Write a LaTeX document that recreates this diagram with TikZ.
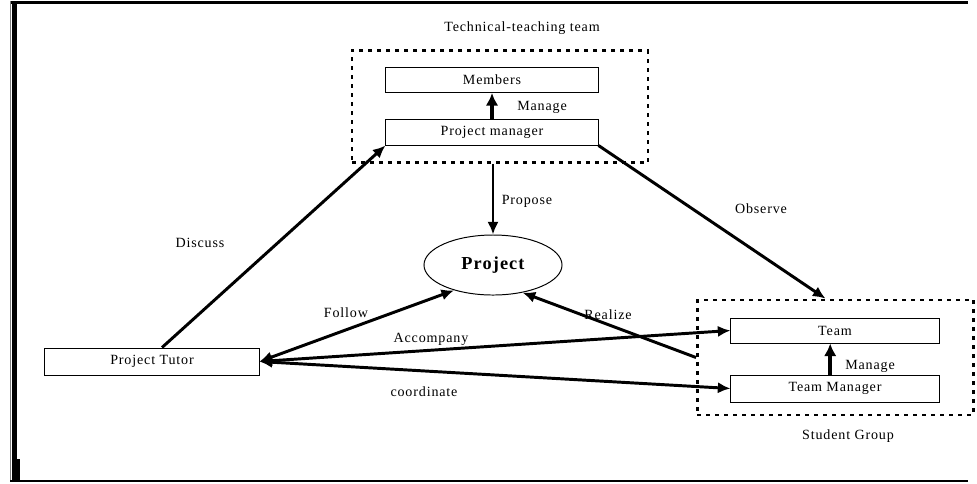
\documentclass[tikz,border=0pt]{standalone}
\usepackage{fontspec}
\setmainfont[LetterSpace=6]{Liberation Serif}
\usetikzlibrary{arrows.meta,shapes.geometric}

\tikzset{
  box/.style={draw, line width=0.7pt, minimum height=0.65cm, inner sep=0pt},
  grp/.style={draw, line width=2pt, dash pattern=on 2.8pt off 3.6pt, inner sep=0pt},
  arr/.style={line width=2.1pt, -{Latex[length=9pt,width=8pt]}},
  thickarr/.style={line width=2.8pt, -{Latex[length=9pt,width=9pt]}},
  twoway/.style={line width=2.1pt, {Latex[length=9pt,width=8pt]}-{Latex[length=9pt,width=8pt]}},
  lbl/.style={inner sep=1pt, font=\fontsize{10}{12}\selectfont}
}

\begin{document}
\begin{tikzpicture}[x=0.025cm, y=-0.025cm, font=\fontsize{10}{12}\selectfont]
            \useasboundingbox (0,0) rectangle (977,483);

            % frame of the figure
            \draw[line width=2.6pt] (10,2.5) -- (968,2.5);
            \draw[line width=3.2pt] (14.5,1) -- (14.5,481.5);
            \draw[line width=0.6pt, gray] (10,1) -- (10,481.5);
            \draw[line width=2pt] (10,481) -- (968,481);
            \fill (12,459) rectangle (20,482);

            % groups
            \node[grp, minimum width=7.4cm, minimum height=2.8cm] (tech) at (500,106.5) {};
            \node[grp, minimum width=6.9cm, minimum height=2.875cm] (student) at (835.5,357.5) {};

            % boxes
            \node[box, minimum width=5.3cm, minimum height=0.625cm] (members) at (492,80) {Members};
            \node[box, minimum width=5.3cm] (pm) at (492,132) {Project manager};
            \node[box, minimum width=5.35cm, minimum height=0.675cm] (tutor) at (152,361.5) {Project Tutor};
            \node[box, minimum width=5.2cm, minimum height=0.625cm] (team) at (835,330.5) {Team};
            \node[box, minimum width=5.2cm, minimum height=0.675cm] (tmgr) at (835,388.5) {Team Manager};
            \node[ellipse, draw, line width=0.7pt, minimum width=3.45cm, minimum height=1.5cm,
                  font=\fontsize{13}{15}\selectfont\bfseries] (project) at (493,265) {Project};

            % connectors
            \draw[thickarr] (pm.north) -- (members.south);
            \draw[thickarr] ([xshift=-0.12cm]tmgr.north) -- ([xshift=-0.12cm]team.south);
            \draw[arr] (project.north |- tech.south) -- (project.north);
            \draw[arr] ([xshift=0.25cm]tutor.north) -- (pm.south west);
            \draw[arr] (pm.south east) -- ([xshift=-0.25cm]student.north);
            \draw[arr] (student.west) -- (project.-43);
            \draw[twoway] (tutor.east) -- (project.-147);
            \draw[twoway] (tutor.east) -- (team.west);
            \draw[twoway] (tutor.east) -- (tmgr.west);

            % labels
            \node[lbl] (ttlbl) at (522,28) {Technical-teaching team};
            \node[lbl] (mglbl1) at (542,107) {Manage};
            \node[lbl] (prlbl) at (527,201) {Propose};
            \node[lbl] (dilbl) at (200,243) {Discuss};
            \node[lbl] (oblbl) at (761,209) {Observe};
            \node[lbl] (folbl) at (346,313) {Follow};
            \node[lbl] (relbl) at (608,315) {Realize};
            \node[lbl] (aclbl) at (431,339) {Accompany};
            \node[lbl] (colbl) at (424,392) {coordinate};
            \node[lbl] (mglbl2) at (870,366) {Manage};
            \node[lbl] (sglbl) at (848,436) {Student Group};
        \end{tikzpicture}
\end{document}
